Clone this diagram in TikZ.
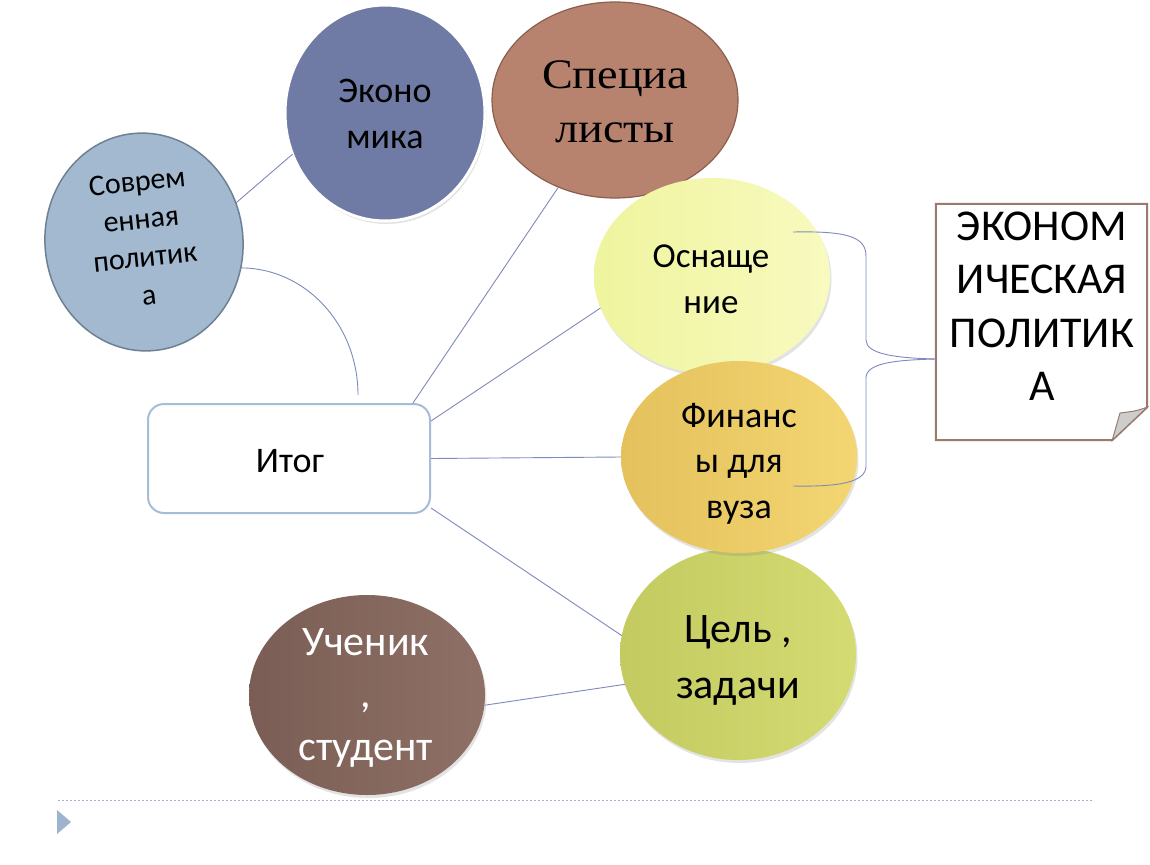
\documentclass[tikz,border=0pt]{standalone}
\usepackage{fontspec}
\setmainfont{Carlito}
\newfontfamily\specfont[FakeStretch=1.1]{Liberation Serif}
\usetikzlibrary{shapes.geometric,shadows,calc}
\definecolor{ecoC}{HTML}{6F7BA4}
\definecolor{specC}{HTML}{B7836F}
\definecolor{specB}{HTML}{8B5E4E}
\definecolor{sovC}{HTML}{A2B9D0}
\definecolor{sovB}{HTML}{6E8093}
\definecolor{osnL}{HTML}{EFF49E}
\definecolor{osnR}{HTML}{F8FABF}
\definecolor{finL}{HTML}{E4C15C}
\definecolor{finR}{HTML}{F3D672}
\definecolor{celL}{HTML}{C3CA60}
\definecolor{celR}{HTML}{D4DB72}
\definecolor{uchL}{HTML}{7A5D54}
\definecolor{uchR}{HTML}{8E7066}
\definecolor{connC}{HTML}{7E89BE}
\definecolor{itogB}{HTML}{A5BDD6}
\definecolor{boxB}{HTML}{9B7A6D}
\definecolor{foldC}{HTML}{CDCDCD}
\definecolor{decoC}{HTML}{9DB3CE}
\newcommand\firststrut{\rule{0pt}{40pt}}
\begin{document}
\begin{tikzpicture}[x=1pt,y=-1pt,
  ell/.style={ellipse, inner sep=0pt, outer sep=0pt},
  shd/.style={drop shadow={opacity=0.22, shadow xshift=1.5pt, shadow yshift=-3pt}},
  txt/.style={anchor=north, inner sep=0pt, align=center},
  conn/.style={draw=connC, line width=0.9pt}]
\useasboundingbox (0,0) rectangle (1150,864);
\fill[white] (0,0) rectangle (1150,864);

% ellipses
\node[ell, minimum width=198pt, minimum height=218pt, rotate=6, fill=sovC, draw=sovB, line width=1.5pt] (sov) at (144,242) {};
\node[ell, minimum width=200pt, minimum height=216pt, fill=ecoC, draw=white, line width=3pt, shd] (eko) at (385,113) {};
\node[ell, minimum width=246pt, minimum height=196pt, fill=specC, draw=specB, line width=1.2pt] (spec) at (615,100) {};
\node[ell, minimum width=236pt, minimum height=196pt, left color=osnL, right color=osnR, shd] (osn) at (712,276) {};
\node[ell, minimum width=236pt, minimum height=212pt, left color=celL, right color=celR, shd] (cel) at (738,654) {};
\node[ell, minimum width=236pt, minimum height=192pt, left color=finL, right color=finR, shd] (fin) at (739,457) {};
\node[ell, minimum width=236pt, minimum height=200pt, left color=uchL, right color=uchR, shd] (uch) at (367,695) {};
\node[rectangle, rounded corners=16pt, minimum width=282pt, minimum height=109pt, inner sep=0pt, fill=white, draw=itogB, line width=2pt] (itog) at (289,458.5) {};
\node[rectangle, minimum width=211pt, minimum height=236pt, inner sep=0pt] (box) at (1041.5,322) {};

% box outline with folded corner
\draw[boxB, line width=2pt, fill=white] (box.north west) -- (box.north east) -- ($(box.south east)+(0,-33)$) -- ($(box.south east)+(-35,0)$) -- (box.south west) -- cycle;
\filldraw[fill=foldC, draw=boxB, line width=1pt] ($(box.south east)+(0,-33)$) .. controls (1136,411) .. (1120,413) -- ($(box.south east)+(-35,0)$) -- cycle;

% texts
\node[txt, font=\fontsize{36}{46}\selectfont] (ekoT) at (385,62) {\firststrut Эконо\\мика};
\node[txt, font=\specfont\fontsize{42}{54}\selectfont] (specT) at (615,48) {\firststrut Специа\\листы};
\node[anchor=center, inner sep=0pt, align=center, rotate=6, font=\fontsize{30}{38}\selectfont] (sovT) at (142,228) {\firststrut Соврем\\енная\\политик\\а};
\node[txt, font=\fontsize{35}{46}\selectfont] (osnT) at (711,227) {\firststrut Оснаще\\ние};
\node[txt, font=\fontsize{36}{45.5}\selectfont] (finT) at (739,387) {\firststrut Финанс\\ы для\\вуза};
\node[txt, font=\fontsize{42}{56}\selectfont] (celT) at (738,602) {\firststrut Цель ,\\задачи};
\node[txt, text=white, font=\fontsize{42}{52.5}\selectfont] (uchT) at (366,615) {\firststrut Ученик\\,\\студент};
\node[txt, font=\fontsize{36}{44}\selectfont] (itogT) at (290,432) {\firststrut Итог};
\node[txt, font=\fontsize{44}{53.5}\selectfont] (boxT) at (1042,200) {\firststrut ЭКОНОМ\\ИЧЕСКАЯ\\ПОЛИТИК\\А};

% connectors
\coordinate (c1) at (358,395);
\draw[conn] (eko.204) -- (sov.17);
\draw[conn] (sov.-21) .. controls (306,268) and (358,325) .. (c1);
\draw[conn] ($(itog.north east)+(-18,0)$) -- (spec.237);
\draw[conn] ($(itog.north east)+(0,18)$) -- (osn.196);
\draw[conn] (itog.east) -- (fin.west);
\draw[conn] ($(itog.south east)+(0,-6)$) -- (cel.171);
\draw[conn] (uch.-5) -- (cel.195);

% brace to the box
\coordinate (b1) at ($(osn.center)+(81,-44)$);
\coordinate (b2) at ($(fin.center)+(54,29)$);
\coordinate (bt) at ($(box.west)+(0,37)$);
\draw[conn] (b1) .. controls (845,231) and (866,236) .. (866,256) -- (866,340) .. controls (866,354) and (895,358) .. (bt);
\draw[conn] (bt) .. controls (895,360) and (866,363) .. (866,378) -- (866,466) .. controls (866,482) and (840,487) .. (b2);

% footer decoration
\draw[decoC, line width=1pt, dash pattern=on 2pt off 2pt] (58,800) -- (1093,800);
\fill[decoC] (57,810) -- (71,822) -- (57,834) -- cycle;
\end{tikzpicture}
\end{document}
